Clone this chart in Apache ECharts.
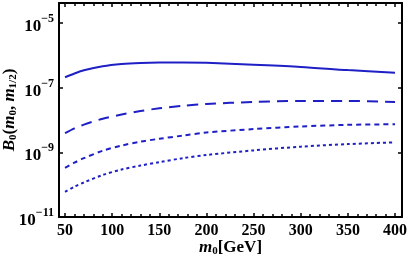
<!DOCTYPE html>
<html>
<head>
<meta charset="utf-8">
<script src="https://cdn.jsdelivr.net/npm/echarts@6/dist/echarts.min.js"></script>
<style>
html,body{margin:0;padding:0;background:#fff;}
#main{width:409px;height:259px;}
</style>
</head>
<body>
<div id="main"></div>
<script>
// m0 [GeV] sample positions
const m0 = [50, 60, 70, 90, 110, 130, 150, 175, 200, 250, 300, 350, 400];
// B0 values
const curveSolid  = [2.1e-7, 2.75e-7, 3.45e-7, 4.6e-7, 5.4e-7, 5.85e-7, 6.05e-7, 6.05e-7, 5.9e-7, 5.15e-7, 4.4e-7, 3.5e-7, 2.9e-7];
const curveLong   = [3.9e-9, 5.5e-9, 7.2e-9, 1.1e-8, 1.48e-8, 1.9e-8, 2.3e-8, 2.75e-8, 3.15e-8, 3.6e-8, 3.9e-8, 3.9e-8, 3.6e-8];
const curveMedium = [3.3e-10, 4.8e-10, 6.6e-10, 1.12e-9, 1.62e-9, 2.14e-9, 2.63e-9, 3.3e-9, 4.1e-9, 5.25e-9, 6.3e-9, 7.1e-9, 7.4e-9];
const curveDotted = [6.0e-11, 8.7e-11, 1.17e-10, 2.0e-10, 2.95e-10, 3.9e-10, 5.0e-10, 6.6e-10, 8.3e-10, 1.15e-9, 1.5e-9, 1.8e-9, 2.04e-9];
// tick values
const xTicks = [50, 100, 150, 200, 250, 300, 350, 400];
const xMinorTicks = [60, 70, 80, 90, 110, 120, 130, 140, 160, 170, 180, 190, 210, 220, 230, 240,
                     260, 270, 280, 290, 310, 320, 330, 340, 360, 370, 380, 390];
const yTickExponents = [-11, -9, -7, -5];

const FONT = '"Liberation Serif", "DejaVu Serif", serif';
const BLUE = '#1f1fc6';

function toLogPairs(ys) {
  return m0.map((x, i) => [x, Math.log10(ys[i])]);
}

const chart = echarts.init(document.getElementById('main'), null, {renderer: 'canvas'});

const xMin = 43.6, xMax = 407.4, yMin = -11, yMax = -4.38;

const axisLineStyle = {lineStyle: {color: '#000', width: 2}};

const option = {
  animation: false,
  backgroundColor: '#fff',
  grid: {left: 59, right: 7, top: 3, bottom: 42, containLabel: false, outerBoundsMode: 'none'},
  xAxis: [
    {
      type: 'value', position: 'bottom', min: xMin, max: xMax,
      axisLine: axisLineStyle,
      splitLine: {show: false},
      axisTick: {inside: true, length: 4, customValues: xTicks, lineStyle: {color: '#000', width: 1.5}},
      axisLabel: {customValues: xTicks, margin: 6, color: '#000', fontFamily: FONT, fontWeight: 'bold', fontSize: 16},
      name: '{i|m}{sub|0}{n|[GeV]}',
      nameLocation: 'middle', nameGap: 21, nameMoveOverlap: false,
      nameTextStyle: {
        color: '#000', fontFamily: FONT, fontWeight: 'bold', fontSize: 17,
        rich: {
          i: {fontFamily: FONT, fontStyle: 'italic', fontWeight: 'bold', fontSize: 17, color: '#000'},
          sub: {fontFamily: FONT, fontWeight: 'bold', fontSize: 11, color: '#000', padding: [8, 0, 0, 0]},
          n: {fontFamily: FONT, fontWeight: 'bold', fontSize: 17, color: '#000'}
        }
      }
    },
    {
      type: 'value', position: 'bottom', min: xMin, max: xMax,
      axisLine: {show: false}, splitLine: {show: false},
      axisTick: {inside: true, length: 3, customValues: xMinorTicks, lineStyle: {color: '#000', width: 1.5}},
      axisLabel: {show: false}
    },
    {
      type: 'value', position: 'top', min: xMin, max: xMax,
      axisLine: axisLineStyle, splitLine: {show: false},
      axisTick: {inside: true, length: 4, customValues: xTicks, lineStyle: {color: '#000', width: 1.5}},
      axisLabel: {show: false}
    },
    {
      type: 'value', position: 'top', min: xMin, max: xMax,
      axisLine: {show: false}, splitLine: {show: false},
      axisTick: {inside: true, length: 3, customValues: xMinorTicks, lineStyle: {color: '#000', width: 1.5}},
      axisLabel: {show: false}
    }
  ],
  yAxis: [
    {
      type: 'value', position: 'left', min: yMin, max: yMax,
      axisLine: axisLineStyle, splitLine: {show: false},
      axisTick: {inside: true, length: 4, customValues: yTickExponents, lineStyle: {color: '#000', width: 1.5}},
      axisLabel: {
        customValues: yTickExponents, margin: 5, color: '#000',
        formatter: v => '{b|10}{s|' + String(v).replace('-', '\u2212') + '}',
        rich: {
          b: {fontFamily: FONT, fontWeight: 'bold', fontSize: 17, color: '#000', padding: [7, 0, 0, 0]},
          s: {fontFamily: FONT, fontWeight: 'bold', fontSize: 12, color: '#000', padding: [0, 0, 8, 0]}
        }
      },
      name: '{i|B}{sub|0}{n|(}{i|m}{sub|0}{n|, }{i|m}{sub|1/2}{n|)}',
      nameLocation: 'middle', nameGap: 40, nameRotate: 90, nameMoveOverlap: false,
      nameTextStyle: {
        color: '#000', fontFamily: FONT, fontWeight: 'bold', fontSize: 17,
        rich: {
          i: {fontFamily: FONT, fontStyle: 'italic', fontWeight: 'bold', fontSize: 17, color: '#000'},
          sub: {fontFamily: FONT, fontWeight: 'bold', fontSize: 11, color: '#000', padding: [8, 0, 0, 0]},
          n: {fontFamily: FONT, fontWeight: 'bold', fontSize: 17, color: '#000'}
        }
      }
    },
    {
      type: 'value', position: 'right', min: yMin, max: yMax,
      axisLine: axisLineStyle, splitLine: {show: false},
      axisTick: {inside: true, length: 4, customValues: yTickExponents, lineStyle: {color: '#000', width: 1.5}},
      axisLabel: {show: false}
    }
  ],
  series: [
    {type: 'line', xAxisIndex: 0, yAxisIndex: 0, data: toLogPairs(curveSolid), smooth: 0.3, showSymbol: false,
     lineStyle: {color: BLUE, width: 2, type: 'solid'}},
    {type: 'line', xAxisIndex: 0, yAxisIndex: 0, data: toLogPairs(curveLong), smooth: 0.3, showSymbol: false,
     lineStyle: {color: BLUE, width: 2, type: [11, 7]}},
    {type: 'line', xAxisIndex: 0, yAxisIndex: 0, data: toLogPairs(curveMedium), smooth: 0.3, showSymbol: false,
     lineStyle: {color: BLUE, width: 2, type: [5, 4]}},
    {type: 'line', xAxisIndex: 0, yAxisIndex: 0, data: toLogPairs(curveDotted), smooth: 0.3, showSymbol: false,
     lineStyle: {color: BLUE, width: 2, type: [3, 3]}}
  ]
};
chart.setOption(option);
</script>
</body>
</html>
